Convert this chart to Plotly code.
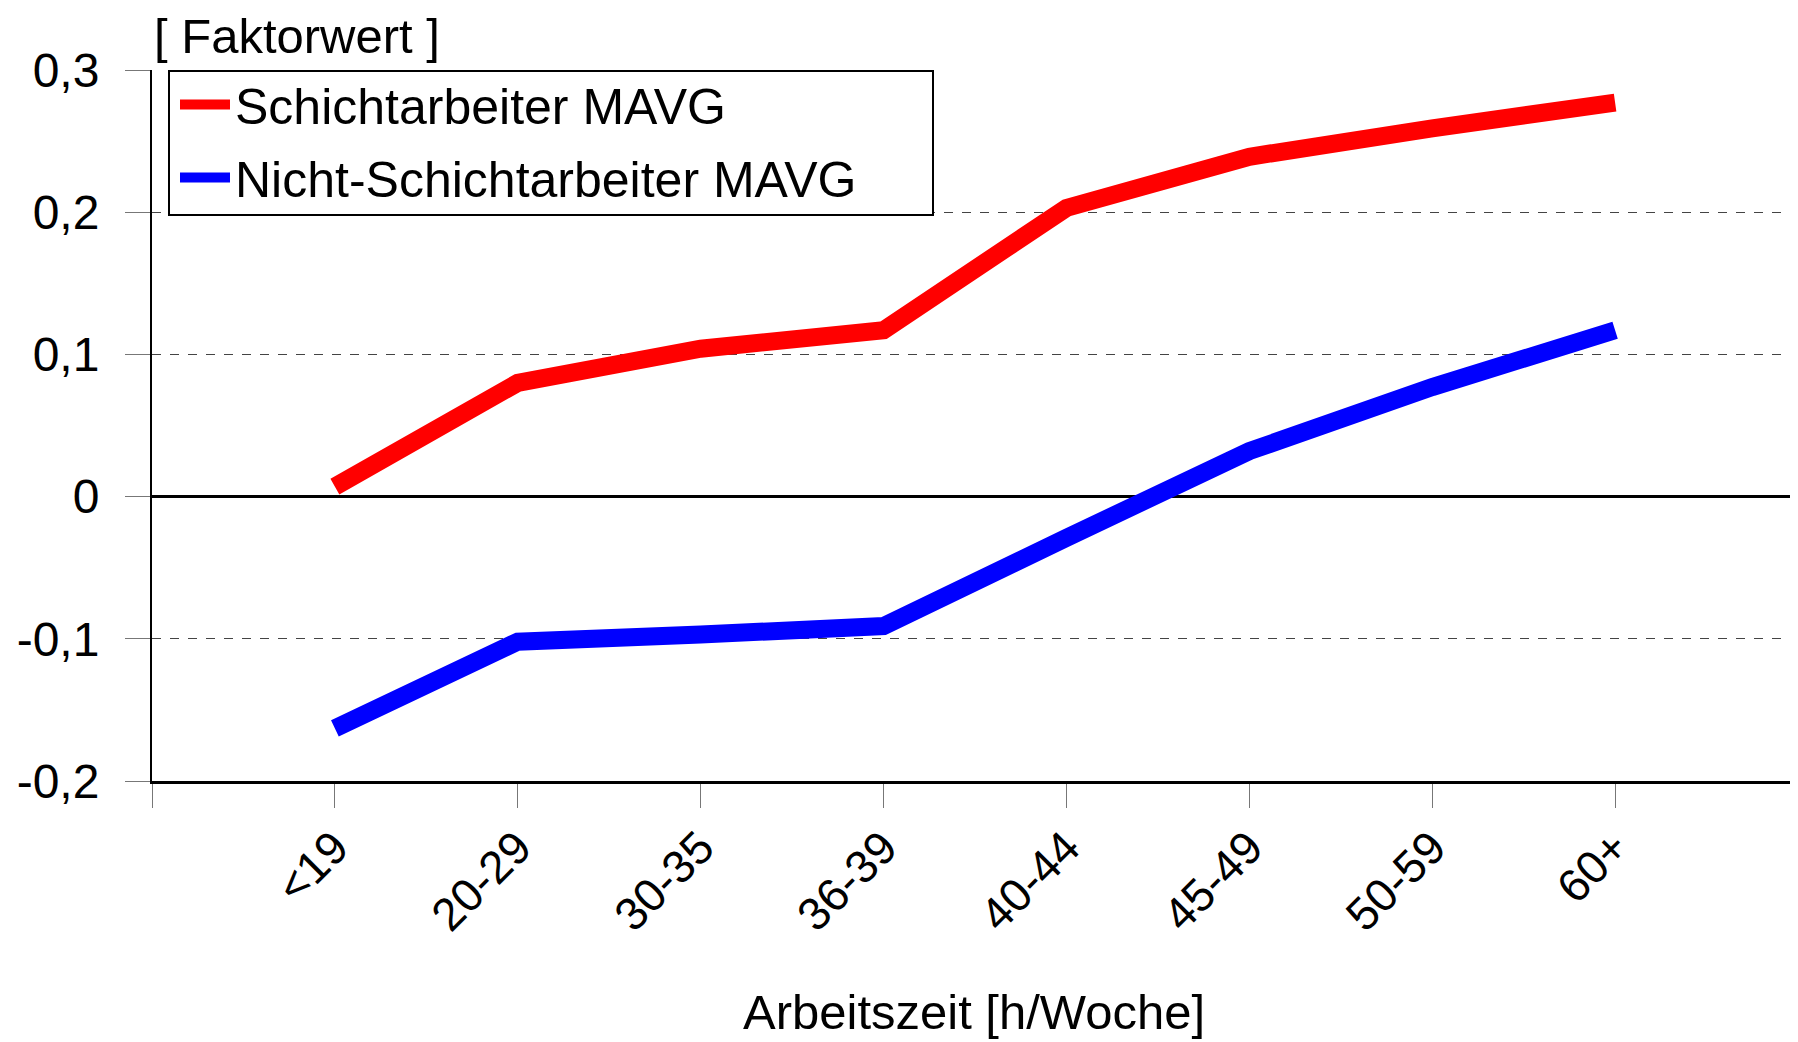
import plotly.graph_objects as go

# Arbeitszeit-Klassen und Faktorwerte
categories = ["<19", "20-29", "30-35", "36-39", "40-44", "45-49", "50-59", "60+"]
schicht = [0.007, 0.080, 0.104, 0.117, 0.203, 0.239, 0.259, 0.277]
nicht_schicht = [-0.163, -0.102, -0.097, -0.091, -0.029, 0.032, 0.077, 0.117]
ytick_vals = [0.3, 0.2, 0.1, 0, -0.1, -0.2]
ytick_text = ["0,3", "0,2", "0,1", "0", "-0,1", "-0,2"]

FONT = "Arial, Liberation Sans, sans-serif"
xpos = list(range(len(categories)))

# page body has an 8px margin, so the figure is a bit smaller
W, H = 1790, 1034
L, T, B = 144, 62, 261
PW, PH = W - L, H - T - B

fig = go.Figure()
fig.add_trace(go.Scatter(x=xpos, y=schicht, mode="lines", name="Schichtarbeiter MAVG",
                         legendgroup="a", line=dict(color="#ff0000", width=18)))
fig.add_trace(go.Scatter(x=xpos, y=nicht_schicht, mode="lines", name="Nicht-Schichtarbeiter MAVG",
                         legendgroup="b", line=dict(color="#0000ff", width=18)))

fig.update_layout(
    width=W, height=H,
    margin=dict(l=L, r=0, t=T, b=B),
    plot_bgcolor="white", paper_bgcolor="white",
    font=dict(family=FONT, color="black"),
    showlegend=True,
    legend=dict(x=23 / PW, y=1 + 4.5 / PH, xanchor="left", yanchor="top",
                bgcolor="rgba(0,0,0,0)", borderwidth=0,
                font=dict(size=50, family=FONT), itemwidth=50,
                tracegroupgap=5),
)

# Rahmen der Legende
fig.add_shape(type="rect", xref="paper", yref="paper",
              x0=17 / PW, x1=781 / PW,
              y0=1 - 145 / PH, y1=1 - 1 / PH,
              line=dict(color="black", width=2), fillcolor="white", layer="above")

fig.update_xaxes(
    automargin=False,
    range=[-1, 8], tickvals=[-1] + xpos, ticktext=[""] + categories,
    tickangle=-45, tickfont=dict(size=46),
    ticks="outside", ticklen=24, tickwidth=1, tickcolor="#777777",
    ticklabelstandoff=-6,
    showgrid=False, zeroline=False,
    showline=True, linecolor="black", linewidth=3,
)
fig.update_yaxes(
    automargin=False,
    range=[-0.2, 0.3], tickvals=ytick_vals, ticktext=ytick_text,
    tickfont=dict(size=48), ticks="outside", ticklen=25, tickwidth=1, tickcolor="#777777",
    ticklabelstandoff=16,
    showgrid=True, gridcolor="#444444", gridwidth=1, griddash="dash",
    zeroline=True, zerolinecolor="black", zerolinewidth=3,
    showline=True, linecolor="black", linewidth=2,
)

fig.add_annotation(text="[ Faktorwert ]", xref="paper", yref="paper",
                   x=0.0, y=1 + 34 / PH, xanchor="left", yanchor="middle",
                   showarrow=False, font=dict(size=49))
fig.add_annotation(text="Arbeitszeit [h/Woche]", xref="paper", yref="paper",
                   x=0.4995, y=-231 / PH, xanchor="center", yanchor="middle",
                   showarrow=False, font=dict(size=49))

fig.write_html("out.html")
